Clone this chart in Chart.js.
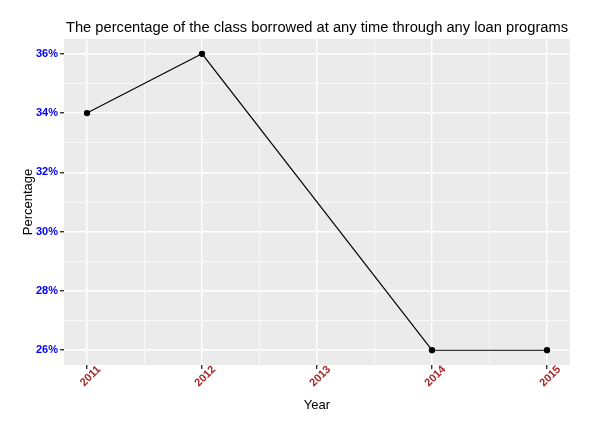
<!DOCTYPE html>
<html>
<head>
<meta charset="utf-8">
<script src="https://cdn.jsdelivr.net/npm/chart.js@4"></script>
<style>
  html, body { margin: 0; padding: 0; background: #fff; }
  #wrap { width: 600px; height: 425px; }
</style>
</head>
<body>
<div id="wrap"><canvas id="c" width="600" height="425"></canvas></div>
<script>
// data
const years = [2011, 2012, 2014, 2015];
const percent = [34, 36, 26, 26];
const xMajor = [2011, 2012, 2013, 2014, 2015];
const xMinor = [2011.5, 2012.5, 2013.5, 2014.5];
const yMajor = [26, 28, 30, 32, 34, 36];
const yMinor = [27, 29, 31, 33, 35];

const titleText = 'The percentage of the class borrowed at any time through any loan programs';
const FONT = '"Liberation Sans", Arial, sans-serif';

// grey panel + title
const panelPlugin = {
  id: 'panel',
  beforeDraw(chart) {
    const { ctx, chartArea: a } = chart;
    ctx.save();
    ctx.fillStyle = '#EBEBEB';
    ctx.fillRect(a.left, a.top, a.right - a.left, a.bottom - a.top);
    ctx.restore();
  },
  afterDraw(chart) {
    const { ctx, chartArea: a } = chart;
    ctx.save();
    ctx.fillStyle = '#000';
    ctx.font = '14.7px ' + FONT;
    ctx.textAlign = 'center';
    ctx.textBaseline = 'alphabetic';
    ctx.fillText(titleText, (a.left + a.right) / 2, 32);
    ctx.restore();
  }
};

const isMajor = (list, v) => list.some(m => Math.abs(m - v) < 1e-6);

new Chart(document.getElementById('c'), {
  type: 'line',
  data: {
    datasets: [{
      data: years.map((y, i) => ({ x: y, y: percent[i] })),
      borderColor: '#000',
      backgroundColor: '#000',
      borderWidth: 1.1,
      pointRadius: 2.6,
      pointHoverRadius: 2.6,
      tension: 0
    }]
  },
  options: {
    responsive: false,
    animation: false,
    devicePixelRatio: 1,
    layout: { padding: { top: 39, left: 6, right: 30, bottom: 0 } },
    plugins: { legend: { display: false }, tooltip: { enabled: false } },
    scales: {
      x: {
        type: 'linear',
        min: 2010.8,
        max: 2015.2,
        afterBuildTicks(s) { s.ticks = xMajor.concat(xMinor).sort((a, b) => a - b).map(v => ({ value: v })); },
        afterFit(s) { s.height = 60; },
        border: { display: false },
        grid: {
          color: '#FFFFFF',
          lineWidth: c => isMajor(xMajor, c.tick.value) ? 1.4 : 0.7,
          tickColor: c => isMajor(xMajor, c.tick.value) ? '#333333' : 'rgba(0,0,0,0)',
          tickLength: 4
        },
        ticks: {
          autoSkip: false,
          minRotation: 45,
          maxRotation: 45,
          padding: -6,
          labelOffset: 12,
          color: '#A52A2A',
          font: { family: FONT, size: 11, weight: 'bold' },
          callback: v => isMajor(xMajor, v) ? String(v) : ''
        },
        title: {
          display: true,
          text: 'Year',
          color: '#000',
          font: { family: FONT, size: 13 },
          padding: { top: 0, bottom: 12 }
        }
      },
      y: {
        min: 25.5,
        max: 36.5,
        afterBuildTicks(s) { s.ticks = yMajor.concat(yMinor).sort((a, b) => a - b).map(v => ({ value: v })); },
        afterFit(s) { s.width = 58; },
        border: { display: false },
        grid: {
          color: '#FFFFFF',
          lineWidth: c => isMajor(yMajor, c.tick.value) ? 1.4 : 0.7,
          tickColor: c => isMajor(yMajor, c.tick.value) ? '#333333' : 'rgba(0,0,0,0)',
          tickLength: 4
        },
        ticks: {
          autoSkip: false,
          padding: 2,
          color: '#0000FF',
          font: { family: FONT, size: 11, weight: 'bold' },
          callback: v => isMajor(yMajor, v) ? v + '%' : ''
        },
        title: {
          display: true,
          text: 'Percentage',
          color: '#000',
          font: { family: FONT, size: 13 },
          padding: { top: 14.5, bottom: 0 }
        }
      }
    }
  },
  plugins: [panelPlugin]
});
</script>
</body>
</html>
